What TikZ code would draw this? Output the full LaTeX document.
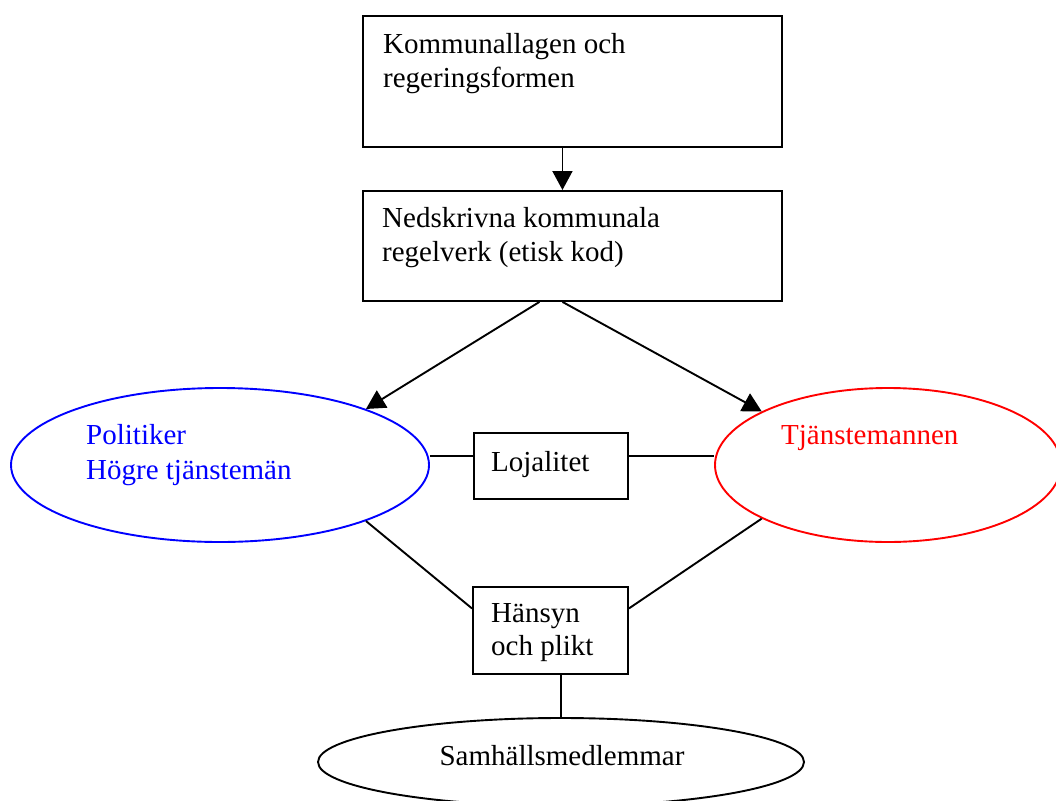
\documentclass[tikz,border=0pt]{standalone}
\usepackage{fontspec}
\setmainfont{Liberation Serif}
\usetikzlibrary{arrows.meta,shapes.geometric,calc}
\begin{document}
\begin{tikzpicture}[x=1pt,y=-1pt,
  box/.style={draw,line width=1.9pt,rectangle,inner sep=0pt,anchor=north west},
  oval/.style={draw,line width=1.9pt,ellipse,inner sep=0pt},
  txt/.style={anchor=base west,inner sep=0pt,font=\fontsize{29}{34}\selectfont},
  conn/.style={line width=1.9pt},
  arr/.style={conn,-{Triangle[length=19pt,width=20pt]}}]
\useasboundingbox (0,0) rectangle (1056,800);
\clip (0,0) rectangle (1056,800);
% boxes
\node[box,minimum width=419pt,minimum height=131pt] (lag) at (362,15) {};
\node[box,minimum width=419pt,minimum height=110pt] (reg) at (362,190) {};
\node[box,minimum width=154pt,minimum height=66pt] (loj) at (473,432) {};
\node[box,minimum width=155pt,minimum height=87pt] (han) at (472,586) {};
% ellipses
\node[oval,draw=blue,minimum width=418pt,minimum height=154pt] (pol) at (220,465) {};
\node[oval,draw=red,minimum width=346pt,minimum height=154pt] (tj) at (888,465) {};
\node[oval,minimum width=486pt,minimum height=88pt] (sam) at (561,762) {};
% texts
\node[txt] (t1a) at (383,53) {Kommunallagen och};
\node[txt] (t1b) at (383,87) {regeringsformen};
\node[txt] (t2a) at (382,227) {Nedskrivna kommunala};
\node[txt] (t2b) at (382,261) {regelverk (etisk kod)};
\node[txt,text=blue] (pola) at (86,444) {Politiker};
\node[txt,text=blue] (polb) at (86,479) {Högre tjänstemän};
\node[txt,text=red] (tja) at (781,444) {Tjänstemannen};
\node[txt] (loja) at (491,471) {Lojalitet};
\node[txt] (hana) at (491,622) {Hänsyn};
\node[txt] (hanb) at (491,655) {och plikt};
\node[txt,anchor=base] (sama) at (562,765) {Samhällsmedlemmar};
% connection points
\coordinate (lagout) at ([xshift=-10pt]lag.south);
\coordinate (regin) at ([xshift=-10pt]reg.north);
\coordinate (regl) at ([xshift=-33pt]reg.south);
\coordinate (regr) at ([xshift=-10pt]reg.south);
\coordinate (lojw) at ([yshift=10pt]loj.west);
\coordinate (loje) at ([yshift=10pt]loj.east);
\coordinate (hanw) at ([yshift=22pt]han.west);
\coordinate (hane) at ([yshift=22pt]han.east);
% connectors
\draw[arr] (lagout) -- (regin);
\draw[arr] (regl) -- (pol.21);
\draw[arr] (regr) -- (tj.157);
\draw[conn] (pol.east |- lojw) -- (lojw);
\draw[conn] (loje) -- (tj.west |- loje);
\draw[conn] (pol.-21) -- (hanw);
\draw[conn] (tj.-157) -- (hane);
\draw[conn] (sam.north |- han.south) -- (sam.north);
\end{tikzpicture}
\end{document}
